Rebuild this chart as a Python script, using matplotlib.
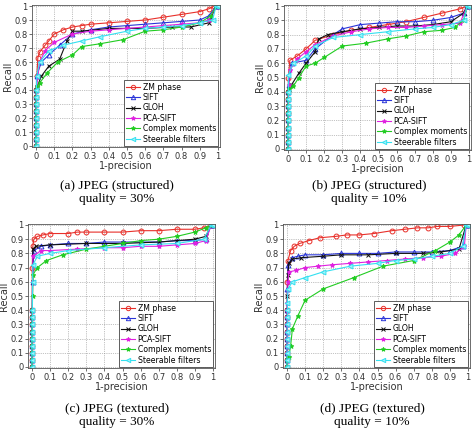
import matplotlib
matplotlib.use("Agg")
import matplotlib.pyplot as plt

labels = ["ZM phase", "SIFT", "GLOH", "PCA-SIFT", "Complex moments", "Steerable filters"]
captions = ["(a) JPEG (structured)\nquality = 30%", "(b) JPEG (structured)\nquality = 10%",
            "(c) JPEG (textured)\nquality = 30%", "(d) JPEG (textured)\nquality = 10%"]
ticks = [0, 0.1, 0.2, 0.3, 0.4, 0.5, 0.6, 0.7, 0.8, 0.9, 1]
tick_labels = ["0", "0.1", "0.2", "0.3", "0.4", "0.5", "0.6", "0.7", "0.8", "0.9", "1"]

vert_y = [0, 0.05, 0.1, 0.15, 0.2, 0.25, 0.3, 0.35, 0.4]
vert_x = [0, 0, 0, 0, 0, 0.001, 0.001, 0.002, 0.002]

# Panel (a)
a_x = [
    [0.005, 0.01, 0.02, 0.05, 0.07, 0.1, 0.15, 0.2, 0.25, 0.3, 0.4, 0.5, 0.6, 0.7, 0.8, 0.9, 0.95, 0.98, 1.0],
    [0.003, 0.03, 0.07, 0.13, 0.2, 0.3, 0.4, 0.5, 0.6, 0.7, 0.8, 0.9, 0.95, 0.99, 1.0],
    [0.005, 0.03, 0.07, 0.13, 0.17, 0.2, 0.25, 0.4, 0.5, 0.6, 0.75, 0.85, 0.95, 0.99, 1.0],
    [0.003, 0.02, 0.05, 0.1, 0.2, 0.3, 0.4, 0.5, 0.6, 0.7, 0.8, 0.9, 0.95, 0.99, 1.0],
    [0.005, 0.02, 0.06, 0.12, 0.2, 0.25, 0.35, 0.48, 0.6, 0.7, 0.8, 0.9, 0.96, 0.99, 1.0],
    [0.004, 0.02, 0.07, 0.15, 0.25, 0.35, 0.5, 0.6, 0.7, 0.8, 0.9, 0.97, 0.99, 1.0],
]
a_y = [
    [0.5, 0.63, 0.67, 0.72, 0.75, 0.8, 0.83, 0.85, 0.86, 0.87, 0.88, 0.89, 0.9, 0.92, 0.94, 0.96, 0.98, 1.0, 1.0],
    [0.5, 0.6, 0.65, 0.72, 0.8, 0.83, 0.85, 0.86, 0.87, 0.88, 0.89, 0.9, 0.93, 1.0, 1.0],
    [0.42, 0.5, 0.57, 0.62, 0.75, 0.82, 0.82, 0.84, 0.84, 0.84, 0.85, 0.85, 0.88, 1.0, 1.0],
    [0.42, 0.6, 0.68, 0.74, 0.8, 0.82, 0.83, 0.84, 0.85, 0.86, 0.87, 0.88, 0.9, 1.0, 1.0],
    [0.42, 0.45, 0.52, 0.6, 0.65, 0.71, 0.73, 0.76, 0.82, 0.83, 0.85, 0.88, 0.93, 1.0, 1.0],
    [0.5, 0.6, 0.68, 0.72, 0.75, 0.78, 0.82, 0.84, 0.85, 0.86, 0.88, 0.9, 1.0, 1.0],
]

# Panel (b)
b_x = [
    [0.002, 0.01, 0.05, 0.1, 0.15, 0.25, 0.35, 0.45, 0.55, 0.65, 0.75, 0.85, 0.95, 0.99, 1.0],
    [0.003, 0.02, 0.1, 0.15, 0.25, 0.3, 0.4, 0.5, 0.6, 0.7, 0.8, 0.9, 0.97, 0.99, 1.0],
    [0.005, 0.02, 0.06, 0.1, 0.15, 0.17, 0.22, 0.3, 0.4, 0.5, 0.6, 0.7, 0.8, 0.9, 0.97, 0.99, 1.0],
    [0.003, 0.01, 0.05, 0.1, 0.15, 0.25, 0.35, 0.45, 0.55, 0.65, 0.75, 0.85, 0.95, 0.99, 1.0],
    [0.005, 0.03, 0.06, 0.1, 0.15, 0.2, 0.3, 0.43, 0.55, 0.65, 0.75, 0.85, 0.92, 0.97, 0.99, 1.0],
    [0.002, 0.03, 0.1, 0.15, 0.25, 0.4, 0.55, 0.7, 0.8, 0.9, 0.97, 0.99, 1.0],
]
b_y = [
    [0.5, 0.62, 0.65, 0.7, 0.76, 0.8, 0.83, 0.85, 0.87, 0.89, 0.92, 0.95, 0.98, 1.0, 1.0],
    [0.45, 0.6, 0.62, 0.7, 0.8, 0.84, 0.87, 0.88, 0.89, 0.89, 0.9, 0.92, 0.95, 1.0, 1.0],
    [0.42, 0.45, 0.53, 0.6, 0.68, 0.77, 0.8, 0.82, 0.84, 0.85, 0.86, 0.86, 0.87, 0.89, 0.95, 1.0, 1.0],
    [0.45, 0.55, 0.63, 0.68, 0.73, 0.79, 0.82, 0.84, 0.85, 0.85, 0.86, 0.87, 0.88, 1.0, 1.0],
    [0.42, 0.44, 0.5, 0.58, 0.6, 0.64, 0.72, 0.74, 0.77, 0.79, 0.82, 0.83, 0.85, 0.9, 1.0, 1.0],
    [0.52, 0.6, 0.65, 0.72, 0.78, 0.8, 0.82, 0.84, 0.85, 0.87, 0.9, 1.0, 1.0],
]

# Panel (c)
c_x = [
    [0.001, 0.005, 0.01, 0.03, 0.06, 0.1, 0.2, 0.25, 0.3, 0.4, 0.5, 0.6, 0.7, 0.8, 0.9, 0.95, 0.99, 1.0],
    [0.003, 0.01, 0.05, 0.1, 0.2, 0.3, 0.4, 0.5, 0.6, 0.7, 0.8, 0.9, 0.96, 0.99, 1.0],
    [0.003, 0.005, 0.02, 0.1, 0.3, 0.5, 0.7, 0.8, 0.9, 0.96, 0.99, 1.0],
    [0.003, 0.005, 0.05, 0.1, 0.25, 0.4, 0.5, 0.6, 0.7, 0.8, 0.9, 0.96, 0.99, 1.0],
    [0.003, 0.005, 0.03, 0.08, 0.17, 0.3, 0.4, 0.5, 0.6, 0.7, 0.8, 0.9, 0.96, 0.99, 1.0],
    [0.003, 0.005, 0.03, 0.1, 0.2, 0.4, 0.6, 0.8, 0.95, 0.99, 1.0],
]
c_y = [
    [0.7, 0.85, 0.9, 0.92, 0.93, 0.94, 0.94, 0.95, 0.95, 0.95, 0.95, 0.96, 0.96, 0.97, 0.97, 0.98, 1.0, 1.0],
    [0.6, 0.82, 0.85, 0.86, 0.87, 0.87, 0.88, 0.88, 0.88, 0.88, 0.89, 0.89, 0.9, 1.0, 1.0],
    [0.6, 0.83, 0.85, 0.86, 0.87, 0.87, 0.88, 0.89, 0.9, 0.92, 1.0, 1.0],
    [0.6, 0.78, 0.82, 0.82, 0.83, 0.84, 0.84, 0.85, 0.85, 0.86, 0.87, 0.89, 1.0, 1.0],
    [0.5, 0.65, 0.7, 0.75, 0.79, 0.83, 0.85, 0.87, 0.89, 0.9, 0.92, 0.95, 0.98, 1.0, 1.0],
    [0.6, 0.72, 0.78, 0.8, 0.82, 0.84, 0.86, 0.87, 0.9, 1.0, 1.0],
]

# Panel (d)
d_x = [
    [0.002, 0.005, 0.02, 0.04, 0.07, 0.12, 0.18, 0.27, 0.33, 0.4, 0.48, 0.58, 0.65, 0.72, 0.78, 0.83, 0.9, 0.98, 1.0],
    [0.002, 0.005, 0.03, 0.06, 0.1, 0.2, 0.3, 0.4, 0.5, 0.6, 0.7, 0.8, 0.9, 0.97, 0.99, 1.0],
    [0.002, 0.005, 0.01, 0.03, 0.08, 0.2, 0.3, 0.45, 0.6, 0.75, 0.85, 0.95, 0.99, 1.0],
    [0.002, 0.005, 0.01, 0.05, 0.1, 0.17, 0.25, 0.35, 0.45, 0.55, 0.65, 0.75, 0.85, 0.93, 0.98, 0.99, 1.0],
    [0.005, 0.01, 0.02, 0.03, 0.06, 0.1, 0.2, 0.37, 0.53, 0.7, 0.82, 0.9, 0.95, 0.99, 1.0],
    [0.002, 0.005, 0.03, 0.1, 0.2, 0.35, 0.5, 0.6, 0.7, 0.8, 0.9, 0.97, 0.99, 1.0],
]
d_y = [
    [0.6, 0.75, 0.82, 0.85, 0.87, 0.89, 0.91, 0.92, 0.93, 0.93, 0.94, 0.96, 0.97, 0.98, 0.98, 0.99, 0.99, 1.0, 1.0],
    [0.55, 0.72, 0.77, 0.78, 0.79, 0.79, 0.8, 0.8, 0.8, 0.81, 0.81, 0.81, 0.82, 0.85, 1.0, 1.0],
    [0.5, 0.65, 0.73, 0.76, 0.77, 0.78, 0.79, 0.79, 0.8, 0.8, 0.81, 0.83, 1.0, 1.0],
    [0.45, 0.6, 0.67, 0.68, 0.7, 0.71, 0.72, 0.73, 0.74, 0.75, 0.76, 0.77, 0.78, 0.8, 0.85, 1.0, 1.0],
    [0.07, 0.07, 0.15, 0.27, 0.36, 0.47, 0.55, 0.63, 0.71, 0.75, 0.82, 0.88, 0.93, 1.0, 1.0],
    [0.45, 0.55, 0.6, 0.63, 0.67, 0.71, 0.73, 0.75, 0.76, 0.78, 0.8, 0.85, 1.0, 1.0],
]

panels_x = [a_x, b_x, c_x, d_x]
panels_y = [a_y, b_y, c_y, d_y]

styles = [
    dict(color="#e8302a", marker="o", mfc="none"),
    dict(color="#2a35d8", marker="^", mfc="none"),
    dict(color="#111111", marker="x", mfc="none"),
    dict(color="#e020e0", marker="*", mfc="#e020e0"),
    dict(color="#22cc22", marker="*", mfc="#22cc22"),
    dict(color="#33e0f0", marker="<", mfc="#a0f4fa"),
]

W, H = 475, 434
# pixel positions of data x=0, x=1, y=1, y=0 for each panel
px = [(36, 218, 6, 146), (288, 469, 6, 149), (32, 213, 225, 367), (287, 468, 225, 367)]
cap_pos = [(117, 192), (369, 192), (117, 415), (372, 415)]

fig = plt.figure(figsize=(W / 100, H / 100), dpi=100)
x0m, x1m, y0m, y1m = -0.02, 1.01, -0.01, 1.01

for k in range(4):
    xl, xr, yt, yb = px[k]
    sx = xr - xl
    sy = yb - yt
    left = xl + x0m * sx
    right = xl + x1m * sx
    bottom = yb - y0m * sy
    top = yb - y1m * sy
    ax = fig.add_axes([left / W, 1 - bottom / H, (right - left) / W, (bottom - top) / H])
    for i in range(6):
        xs = vert_x + panels_x[k][i]
        ys = vert_y + panels_y[k][i]
        first = panels_y[k][i][0]
        pts = [(x, y) for j, (x, y) in enumerate(zip(xs, ys)) if j >= len(vert_x) or y < first]
        ax.plot([p[0] for p in pts], [p[1] for p in pts], label=labels[i], lw=0.8,
                ms=3.5, mew=0.7, **styles[i])
    ax.set_xlim(x0m, x1m)
    ax.set_ylim(y0m, y1m)
    ax.set_xticks(ticks)
    ax.set_xticklabels(tick_labels)
    ax.set_yticks(ticks)
    ax.set_yticklabels(tick_labels)
    ax.tick_params(labelsize=6, length=2, width=0.5, pad=1.5, colors="#333333")
    ax.grid(True, linestyle=":", color="#888888", lw=0.5)
    for s in ax.spines.values():
        s.set_linewidth(0.6)
        s.set_color("#555555")
    ax.set_xlabel("1-precision", fontsize=7, labelpad=0, color="#333333")
    ax.set_ylabel("Recall", fontsize=7, labelpad=1, color="#333333")
    leg = ax.legend(loc="lower right", fontsize=5.6, handlelength=1.8, handletextpad=0.3,
                    labelspacing=0.18, borderpad=0.3, borderaxespad=0.2, fancybox=False,
                    framealpha=1, edgecolor="#444444", markerscale=0.9)
    leg.get_frame().set_linewidth(0.6)
    cx, cy = cap_pos[k]
    fig.text(cx / W, 1 - cy / H, captions[k], ha="center", va="center", fontsize=9.5,
             family="Liberation Serif", linespacing=1.2)

fig.savefig("out.png", dpi=100)
